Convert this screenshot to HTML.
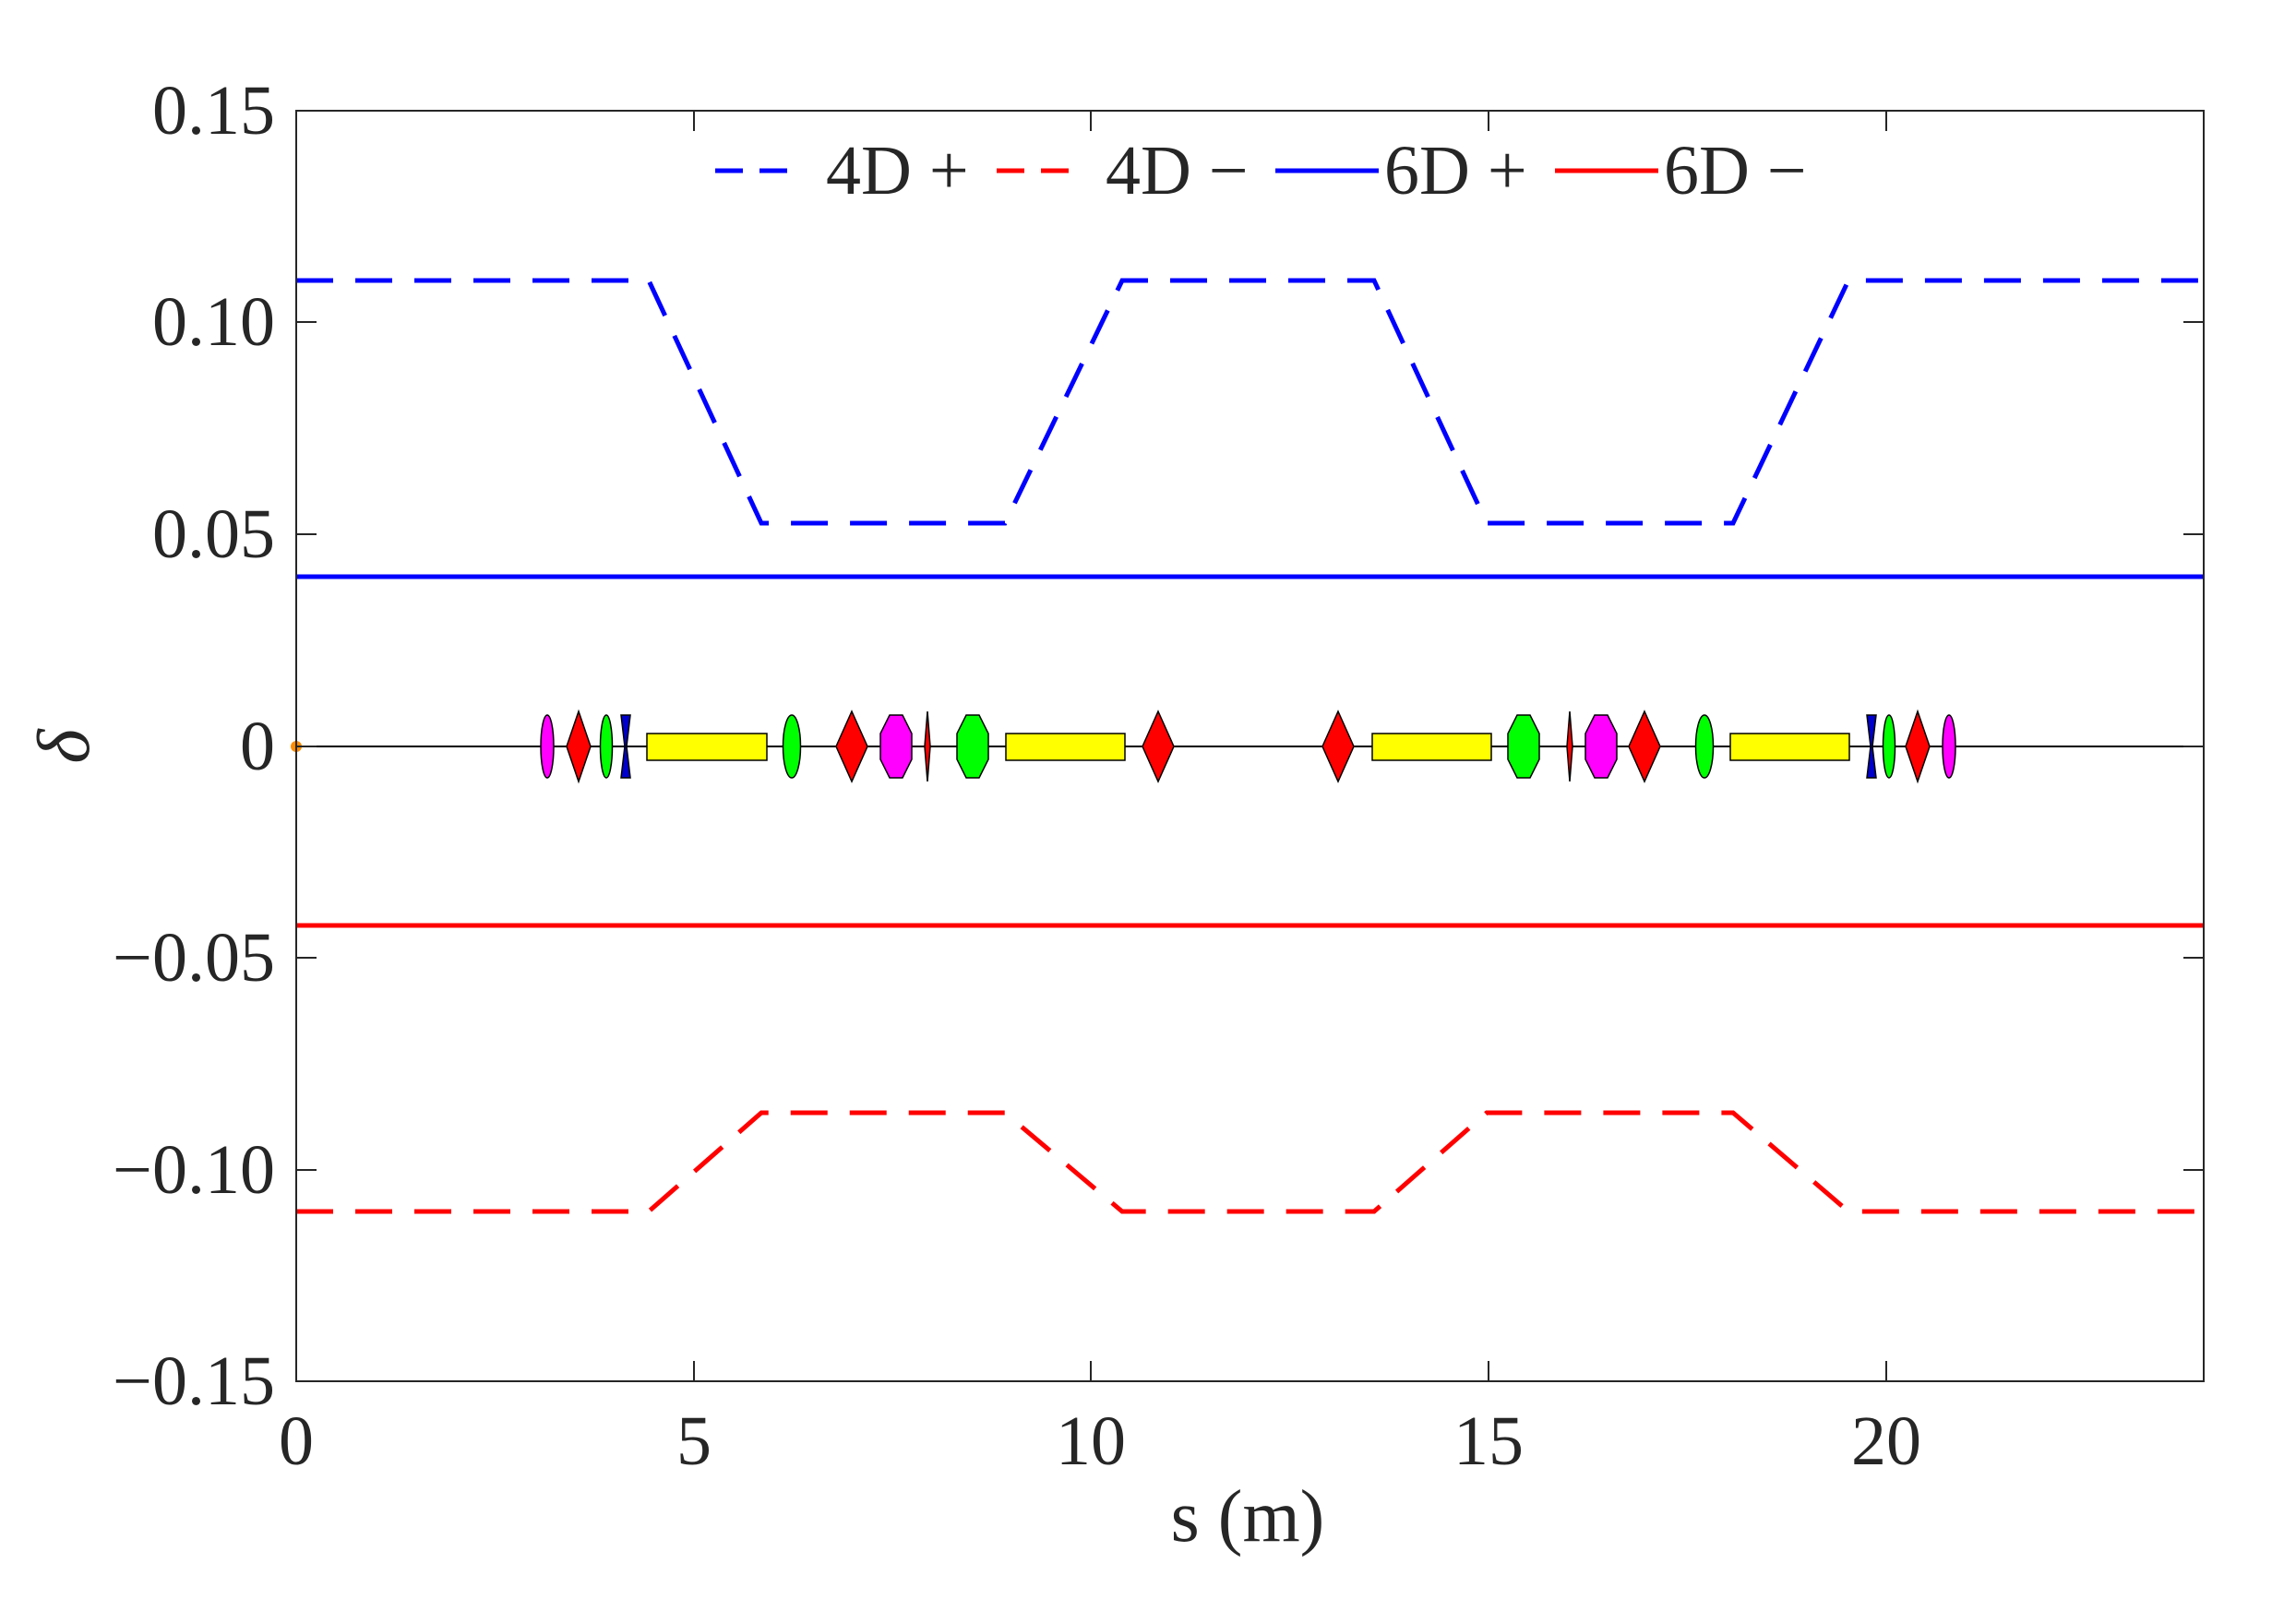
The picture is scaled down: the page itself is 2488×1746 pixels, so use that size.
<!DOCTYPE html>
<html><head><meta charset="utf-8"><style>
html,body{margin:0;padding:0;background:#fff;}
svg{display:block;}
text{font-family:"Liberation Serif",serif;fill:#262626;}
</style></head><body>
<svg width="2488" height="1746" viewBox="0 0 2488 1746" xmlns="http://www.w3.org/2000/svg">
<rect width="2488" height="1746" fill="#fff"/>
<!-- series -->
<g fill="none" stroke-width="5">
<polyline stroke="#0000ff" stroke-dasharray="40,24" points="321,304 703,304 825,567 1089,567 1216,304 1489,304 1611,567 1878,567 2003,304 2388,304"/>
<polyline stroke="#ff0000" stroke-dasharray="40,24" points="321,1313 703,1313 825,1206 1089,1206 1216,1313 1489,1313 1611,1206 1878,1206 2003,1313 2388,1313"/>
<line x1="321" y1="625" x2="2388" y2="625" stroke="#0000ff"/>
<line x1="321" y1="1003" x2="2388" y2="1003" stroke="#ff0000"/>
</g>
<!-- beamline -->
<line x1="321" y1="809" x2="2388" y2="809" stroke="#000" stroke-width="2"/>
<g stroke="#000" stroke-width="1.5">
<rect x="701" y="795" width="130" height="29" fill="#ffff00"/>
<rect x="1090" y="795" width="129" height="29" fill="#ffff00"/>
<rect x="1487" y="795" width="129" height="29" fill="#ffff00"/>
<rect x="1875" y="795" width="129" height="29" fill="#ffff00"/>
<ellipse cx="593" cy="809" rx="7" ry="34" fill="#ff00ff"/>
<ellipse cx="2112" cy="809" rx="7" ry="34" fill="#ff00ff"/>
<ellipse cx="657" cy="809" rx="6.5" ry="34" fill="#00ff00"/>
<ellipse cx="2047" cy="809" rx="6.5" ry="34" fill="#00ff00"/>
<ellipse cx="858" cy="809" rx="9.5" ry="34" fill="#00ff00"/>
<ellipse cx="1847" cy="809" rx="9.5" ry="34" fill="#00ff00"/>
<polygon points="627,771 640,809 627,847 614,809" fill="#ff0000"/>
<polygon points="2078,771 2091,809 2078,847 2065,809" fill="#ff0000"/>
<polygon points="923,771 940,809 923,847 906,809" fill="#ff0000"/>
<polygon points="1255,771 1272,809 1255,847 1238,809" fill="#ff0000"/>
<polygon points="1450,771 1467,809 1450,847 1433,809" fill="#ff0000"/>
<polygon points="1782,771 1799,809 1782,847 1765,809" fill="#ff0000"/>
<polygon points="1005,771 1008,809 1005,847 1002,809" fill="#ff0000"/>
<polygon points="1701,771 1704,809 1701,847 1698,809" fill="#ff0000"/>
<polygon points="673,775 683,775 679,809 683,843 673,843 677,809" fill="#0000cc"/>
<polygon points="2023,775 2033,775 2029,809 2033,843 2023,843 2027,809" fill="#0000cc"/>
<polygon points="964,775 978,775 988,795 988,823 978,843 964,843 954,823 954,795" fill="#ff00ff"/>
<polygon points="1728,775 1742,775 1752,795 1752,823 1742,843 1728,843 1718,823 1718,795" fill="#ff00ff"/>
<polygon points="1047,775 1061,775 1071,795 1071,823 1061,843 1047,843 1037,823 1037,795" fill="#00ff00"/>
<polygon points="1644,775 1658,775 1668,795 1668,823 1658,843 1644,843 1634,823 1634,795" fill="#00ff00"/>
</g>
<circle cx="321" cy="809" r="6" fill="#ff8c00"/>
<!-- axes -->
<g stroke="#262626" stroke-width="2" fill="none">
<rect x="321" y="120" width="2067" height="1377"/>
<path d="M752,1497v-22M1182,1497v-22M1613,1497v-22M2044,1497v-22M752,120v22M1182,120v22M1613,120v22M2044,120v22M321,349h22M321,579h22M321,809h22M321,1038h22M321,1268h22M2388,349h-22M2388,579h-22M2388,809h-22M2388,1038h-22M2388,1268h-22"/>
</g>
<g font-size="76" text-anchor="end">
<text x="298" y="145">0.15</text>
<text x="298" y="374">0.10</text>
<text x="298" y="604">0.05</text>
<text x="298" y="834">0</text>
<text x="298" y="1063">−0.05</text>
<text x="298" y="1293">−0.10</text>
<text x="298" y="1522">−0.15</text>
</g>
<g font-size="76" text-anchor="middle">
<text x="321" y="1587">0</text>
<text x="752" y="1587">5</text>
<text x="1182" y="1587">10</text>
<text x="1613" y="1587">15</text>
<text x="2044" y="1587">20</text>
<text x="1352" y="1670" font-size="80">s (m)</text>
</g>
<text x="0" y="0" font-size="80" font-style="italic" text-anchor="middle" transform="translate(96,809) rotate(-90)">δ</text>
<!-- legend -->
<g stroke-width="5">
<line x1="775" y1="185" x2="867" y2="185" stroke="#0000ff" stroke-dasharray="30,18"/>
<line x1="1080" y1="185" x2="1176" y2="185" stroke="#ff0000" stroke-dasharray="30,18"/>
<line x1="1382" y1="185" x2="1494" y2="185" stroke="#0000ff"/>
<line x1="1685" y1="185" x2="1797" y2="185" stroke="#ff0000"/>
</g>
<g font-size="76">
<text x="895" y="210">4D +</text>
<text x="1198" y="210">4D −</text>
<text x="1500" y="210">6D +</text>
<text x="1803" y="210">6D −</text>
</g>
</svg>
</body></html>
